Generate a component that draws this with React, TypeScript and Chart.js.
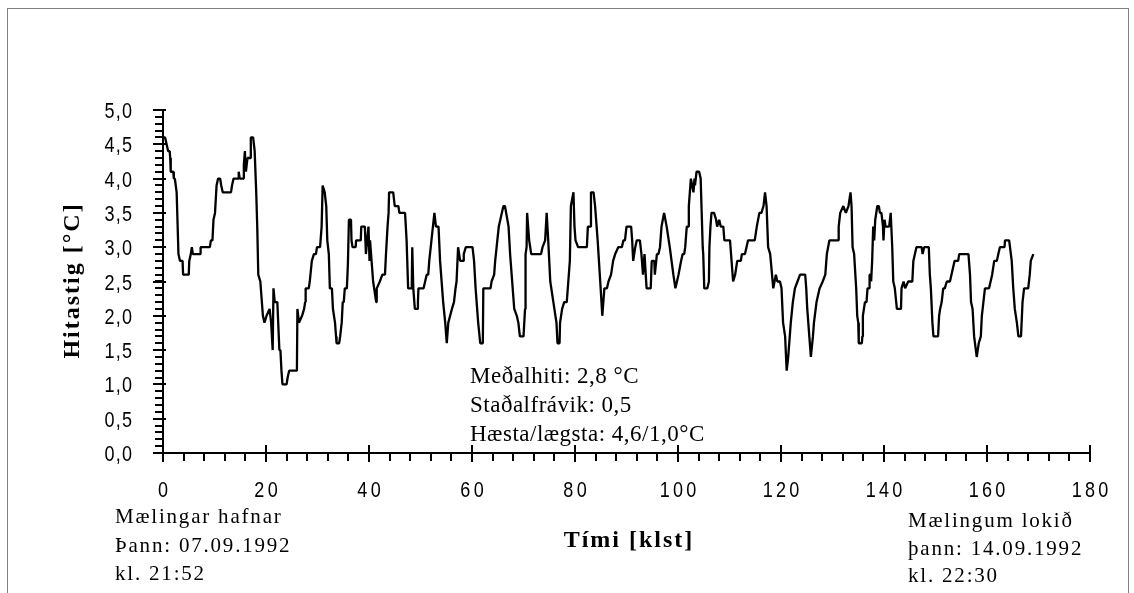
import React, { useEffect, useRef } from 'react';
import { Chart, registerables } from 'chart.js';

Chart.register(...registerables);

// Temperature record: [time in hours, temperature in °C]
const readings: [number, number][] = [
  [0,4.6],[0.4,4.6],[0.7,4.5],[1.0,4.4],[1.3,4.4],[1.4,4.3],[1.5,4.1],[2.0,4.1],[2.1,4.0],[2.3,4.0],
  [2.65,3.8],[3.0,2.9],[3.3,2.8],[3.8,2.8],[3.9,2.6],[5.0,2.6],[5.1,2.8],[5.4,2.9],[5.6,3.0],[5.8,2.9],
  [7.2,2.9],[7.3,3.0],[9.1,3.0],[9.3,3.1],[9.6,3.1],[9.8,3.4],[10.1,3.5],[10.4,3.9],[10.7,4.0],[11.1,4.0],
  [11.3,3.9],[11.6,3.8],[13.2,3.8],[13.4,3.9],[13.7,4.0],[14.6,4.0],[14.7,4.1],[14.9,4.0],[15.6,4.0],[15.7,4.2],
  [15.9,4.4],[16.1,4.1],[16.4,4.3],[16.9,4.3],[17.05,4.6],[17.5,4.6],[17.8,4.4],[18.1,3.8],[18.3,3.3],[18.5,2.6],
  [18.9,2.5],[19.4,2.0],[19.7,1.9],[20.1,2.0],[20.7,2.1],[21.0,1.9],[21.3,1.5],[21.45,2.4],[21.7,2.2],[22.2,2.2],
  [22.6,1.5],[22.8,1.5],[23.0,1.2],[23.2,1.0],[24.0,1.0],[24.2,1.1],[24.5,1.2],[26.0,1.2],[26.1,2.1],[26.4,1.9],
  [27.0,2.0],[27.4,2.1],[27.6,2.2],[27.7,2.4],[28.3,2.4],[28.5,2.5],[28.9,2.8],[29.3,2.9],[29.7,2.9],[29.9,3.0],
  [30.5,3.0],[30.8,3.3],[31.0,3.9],[31.4,3.8],[31.7,3.6],[31.9,3.1],[32.2,2.9],[32.4,2.4],[32.8,2.4],[33.0,2.1],
  [33.4,1.9],[33.6,1.7],[33.7,1.6],[34.2,1.6],[34.4,1.7],[34.7,1.9],[34.9,2.2],[35.1,2.2],[35.3,2.4],[35.7,2.4],
  [35.9,2.75],[36.1,3.4],[36.5,3.4],[36.6,3.1],[36.8,3.0],[37.4,3.0],[37.5,3.1],[38.4,3.1],[38.5,3.3],[39.2,3.3],
  [39.4,2.9],[39.9,3.3],[40.1,2.8],[40.2,3.1],[40.5,2.8],[40.8,2.5],[41.0,2.4],[41.4,2.2],[41.5,2.4],[42.1,2.5],
  [42.6,2.6],[43.1,2.6],[43.3,2.9],[43.6,3.3],[43.8,3.5],[43.9,3.8],[44.7,3.8],[45.0,3.6],[45.7,3.6],[45.9,3.5],
  [47.0,3.5],[47.3,3.1],[47.6,2.4],[48.3,2.4],[48.4,3.0],[48.6,2.4],[48.9,2.1],[49.4,2.1],[49.5,2.2],[49.6,2.4],
  [50.6,2.4],[50.9,2.5],[51.2,2.6],[51.5,2.6],[51.7,2.8],[52.7,3.5],[53.0,3.3],[53.5,3.3],[53.8,2.8],[54.1,2.5],
  [54.4,2.2],[54.8,1.9],[55.1,1.6],[55.4,1.9],[56.1,2.1],[56.5,2.2],[56.8,2.4],[57.0,2.5],[57.3,3.0],[57.7,2.8],
  [58.3,2.8],[58.4,2.9],[58.8,3.0],[60.1,3.0],[60.4,2.8],[60.7,2.4],[61.2,1.9],[61.6,1.6],[62.1,1.6],[62.2,2.4],
  [63.6,2.4],[63.8,2.5],[64.3,2.6],[64.5,2.8],[65.2,3.3],[65.5,3.4],[66.1,3.6],[66.4,3.6],[67.1,3.3],[67.4,2.9],
  [67.8,2.5],[68.2,2.1],[68.7,2.0],[69.0,1.9],[69.3,1.7],[70.0,1.7],[70.3,2.1],[70.4,2.9],[70.6,3.0],[70.7,3.5],
  [71.1,3.1],[71.3,3.0],[71.5,2.9],[73.4,2.9],[73.7,3.0],[74.2,3.1],[74.5,3.5],[74.8,3.1],[75.2,2.5],[75.8,2.2],
  [76.4,1.9],[76.6,1.6],[77.0,1.6],[77.1,1.9],[77.5,2.1],[77.9,2.2],[78.4,2.2],[78.7,2.5],[79.0,2.8],[79.2,3.6],
  [79.7,3.8],[79.9,3.3],[80.1,3.1],[80.6,3.0],[82.3,3.0],[82.5,3.3],[83.0,3.3],[83.1,3.8],[83.6,3.8],[83.9,3.6],
  [84.4,3.1],[84.9,2.5],[85.3,2.0],[85.7,2.4],[86.2,2.4],[86.5,2.5],[87.0,2.6],[87.4,2.8],[87.8,2.9],[88.4,3.0],
  [89.1,3.0],[89.4,3.1],[89.7,3.1],[90.0,3.3],[90.9,3.3],[91.1,3.1],[91.3,2.8],[91.7,3.0],[92.0,3.1],[92.6,3.1],
  [92.9,2.9],[93.2,2.6],[93.5,2.9],[93.9,2.4],[94.7,2.4],[94.9,2.8],[95.4,2.8],[95.5,2.6],[95.9,2.9],[96.2,2.9],
  [96.5,3.0],[96.8,3.3],[97.3,3.5],[97.8,3.3],[98.4,3.0],[99.1,2.6],[99.5,2.4],[100.1,2.6],[100.6,2.8],[100.9,2.9],
  [101.2,2.9],[101.4,3.0],[101.7,3.3],[102.0,3.3],[102.1,3.6],[102.3,3.8],[102.5,4.0],[103.0,3.8],[103.2,4.0],[103.3,3.9],
  [103.6,4.1],[104.1,4.1],[104.4,4.0],[104.6,3.5],[104.8,3.0],[104.9,2.9],[105.1,2.4],[105.7,2.4],[106.0,2.5],[106.1,3.0],
  [106.3,3.3],[106.5,3.5],[107.0,3.5],[107.4,3.4],[107.6,3.3],[108.0,3.4],[108.3,3.3],[108.8,3.3],[109.0,3.1],[110.1,3.1],
  [110.4,2.8],[110.7,2.5],[111.1,2.6],[111.5,2.8],[112.2,2.8],[112.4,2.9],[113.0,2.9],[113.3,3.0],[113.6,3.1],[114.9,3.1],
  [115.3,3.3],[115.8,3.5],[116.2,3.5],[116.6,3.6],[116.9,3.8],[117.2,3.6],[117.5,3.0],[117.9,2.9],[118.5,2.4],[119.0,2.6],
  [119.3,2.5],[119.8,2.5],[120.1,2.4],[120.4,1.9],[120.8,1.7],[121.1,1.2],[121.4,1.4],[121.9,1.9],[122.3,2.2],[122.7,2.4],
  [123.2,2.5],[123.7,2.6],[124.7,2.6],[124.9,2.4],[125.1,2.1],[125.5,1.7],[125.8,1.4],[126.2,1.7],[126.4,1.9],[126.9,2.2],
  [127.5,2.4],[128.1,2.5],[128.6,2.6],[128.9,2.9],[129.4,3.1],[131.1,3.1],[131.2,3.3],[131.5,3.5],[132.1,3.6],[132.6,3.5],
  [133.1,3.6],[133.5,3.8],[133.7,3.6],[133.9,3.0],[134.2,2.9],[134.6,2.4],[134.8,2.0],[135.0,1.9],[135.1,1.6],[135.7,1.6],
  [135.8,1.7],[135.9,2.0],[136.1,2.1],[136.3,2.2],[136.6,2.2],[136.8,2.4],[137.1,2.4],[137.2,2.6],[137.4,2.6],[137.5,2.5],
  [137.7,2.8],[137.9,3.3],[138.1,3.1],[138.3,3.4],[138.5,3.5],[138.7,3.6],[139.0,3.6],[139.2,3.5],[139.5,3.5],[139.8,3.3],
  [139.9,3.1],[140.1,3.4],[140.3,3.3],[141.0,3.3],[141.3,3.5],[141.6,3.0],[141.8,2.5],[142.1,2.4],[142.5,2.1],[143.3,2.1],
  [143.4,2.4],[143.8,2.5],[144.1,2.4],[144.7,2.5],[145.5,2.5],[145.7,2.8],[146.0,2.9],[146.3,3.0],[147.3,3.0],[147.5,2.9],
  [147.8,3.0],[148.7,3.0],[148.9,2.6],[149.1,2.4],[149.4,1.9],[149.6,1.7],[150.5,1.7],[150.7,2.0],[150.9,2.1],[151.2,2.2],
  [151.5,2.4],[151.8,2.4],[152.2,2.5],[152.8,2.5],[153.1,2.6],[153.7,2.8],[154.4,2.8],[154.6,2.9],[156.4,2.9],[156.7,2.6],
  [156.9,2.2],[157.2,2.1],[157.5,1.7],[158.0,1.4],[158.4,1.6],[158.8,1.7],[159.0,2.0],[159.3,2.2],[159.6,2.4],[160.4,2.4],
  [160.7,2.5],[161.0,2.6],[161.4,2.8],[161.9,2.8],[162.2,2.9],[162.5,3.0],[163.4,3.0],[163.5,3.1],[164.3,3.1],[164.8,2.8],
  [165.1,2.4],[165.4,2.1],[165.8,1.9],[166.1,1.7],[166.6,1.7],[166.9,2.2],[167.2,2.4],[168.0,2.4],[168.3,2.6],[168.5,2.8],
  [169.0,2.9],
];

const hours = readings.map((r) => r[0]);
const temps = readings.map((r) => r[1]);

const xMajorTicks = [0, 20, 40, 60, 80, 100, 120, 140, 160, 180];
const xTickLabels = ['0', '20', '40', '60', '80', '100', '120', '140', '160', '180'];
const xMinorStep = 4;
const yMajorTicks = [0, 0.5, 1, 1.5, 2, 2.5, 3, 3.5, 4, 4.5, 5];
const yTickLabels = ['0,0', '0,5', '1,0', '1,5', '2,0', '2,5', '3,0', '3,5', '4,0', '4,5', '5,0'];
const yMinorStep = 0.1;

const xTitle = 'Tími [klst]';
const yTitle = 'Hitastig [°C]';
const statLines = ['Meðalhiti: 2,8 °C', 'Staðalfrávik: 0,5', 'Hæsta/lægsta: 4,6/1,0°C'];
const startLines = ['Mælingar hafnar', 'Þann: 07.09.1992', 'kl. 21:52'];
const endLines = ['Mælingum lokið', 'þann: 14.09.1992', 'kl. 22:30'];

const SERIF = '"Liberation Serif", "Times New Roman", serif';
const SANS = '"Liberation Sans", Arial, sans-serif';

function drawText(
  ctx: CanvasRenderingContext2D,
  s: string,
  x: number,
  y: number,
  align: 'left' | 'center' | 'right',
  font: string,
  spacing: number,
  sx = 1
) {
  ctx.save();
  ctx.translate(x, y);
  ctx.scale(sx, 1);
  ctx.font = font;
  (ctx as any).letterSpacing = spacing + 'px';
  ctx.textAlign = 'left';
  ctx.textBaseline = 'alphabetic';
  const w = ctx.measureText(s).width - spacing;
  const x0 = align === 'center' ? -w / 2 : align === 'right' ? -w : 0;
  ctx.fillStyle = '#000';
  ctx.fillText(s, x0, 0);
  ctx.restore();
}

const decorPlugin = {
  id: 'decor',
  afterDraw(chart: any) {
    const ctx: CanvasRenderingContext2D = chart.ctx;
    const xs = chart.scales.x;
    const ys = chart.scales.y;
    const L = Math.round(xs.getPixelForValue(xMajorTicks[0]));
    const R = Math.round(xs.getPixelForValue(xMajorTicks[xMajorTicks.length - 1]));
    const B = Math.round(ys.getPixelForValue(yMajorTicks[0]));
    const T = Math.round(ys.getPixelForValue(yMajorTicks[yMajorTicks.length - 1]));

    ctx.save();
    ctx.strokeStyle = '#000';
    ctx.lineWidth = 2;
    ctx.lineCap = 'butt';
    ctx.beginPath();
    ctx.moveTo(L, T);
    ctx.lineTo(L, B + 1);
    ctx.moveTo(L - 1, B);
    ctx.lineTo(R + 1, B);
    const yMax = yMajorTicks[yMajorTicks.length - 1];
    for (let v = 0; v <= yMax + 1e-6; v += yMinorStep) {
      const y = Math.round(ys.getPixelForValue(v));
      ctx.moveTo(L - 8, y);
      ctx.lineTo(L, y);
    }
    yMajorTicks.forEach((v) => {
      const y = Math.round(ys.getPixelForValue(v));
      ctx.moveTo(L - 10, y);
      ctx.lineTo(L + 3, y);
    });
    const xMax = xMajorTicks[xMajorTicks.length - 1];
    for (let v = 0; v <= xMax + 1e-6; v += xMinorStep) {
      const x = Math.round(xs.getPixelForValue(v));
      ctx.moveTo(x, B);
      ctx.lineTo(x, B + 8);
    }
    xMajorTicks.forEach((v) => {
      const x = Math.round(xs.getPixelForValue(v));
      ctx.moveTo(x, B - 8);
      ctx.lineTo(x, B + 9);
    });
    ctx.stroke();
    ctx.restore();

    yMajorTicks.forEach((v, i) => {
      const y = ys.getPixelForValue(v);
      drawText(ctx, yTickLabels[i], L - 31, y + 8, 'right', '22px ' + SANS, 1.5, 0.82);
    });
    xMajorTicks.forEach((v, i) => {
      const x = xs.getPixelForValue(v);
      drawText(ctx, xTickLabels[i], x, B + 44, 'center', '22px ' + SANS, 4, 0.82);
    });

    drawText(ctx, xTitle, L + 465, B + 94, 'center', 'bold 24px ' + SERIF, 2);
    ctx.save();
    ctx.translate(L - 84, (T + B) / 2);
    ctx.rotate(-Math.PI / 2);
    drawText(ctx, yTitle, 0, 0, 'center', 'bold 24px ' + SERIF, 2);
    ctx.restore();

    statLines.forEach((s, i) => {
      drawText(ctx, s, L + 307, B - 70 + i * 29, 'left', '23px ' + SERIF, 0.5);
    });
    startLines.forEach((s, i) => {
      drawText(ctx, s, L - 48, B + 70 + i * 28.5, 'left', '21px ' + SERIF, 1.8);
    });
    endLines.forEach((s, i) => {
      drawText(ctx, s, L + 745, B + 74 + i * 27.5, 'left', '21px ' + SERIF, 1.8);
    });
  },
};

export default function App() {
  const canvasRef = useRef<HTMLCanvasElement | null>(null);

  useEffect(() => {
    const canvas = canvasRef.current;
    if (!canvas) return;
    const chart = new Chart(canvas, {
      type: 'line',
      data: {
        datasets: [
          {
            data: hours.map((h, i) => ({ x: h, y: temps[i] })),
            borderColor: '#000',
            borderWidth: 2.3,
            pointRadius: 0,
            tension: 0,
            fill: false,
            borderJoinStyle: 'bevel',
          },
        ],
      },
      options: {
        responsive: false,
        animation: false,
        devicePixelRatio: 1,
        layout: { padding: { left: 155, right: 38, top: 101, bottom: 140 } },
        scales: {
          x: { type: 'linear', min: 0, max: 180, display: false },
          y: { type: 'linear', min: 0, max: 5, display: false },
        },
        plugins: {
          legend: { display: false },
          tooltip: { enabled: false },
        },
      },
      plugins: [decorPlugin],
    } as any);
    return () => chart.destroy();
  }, []);

  return (
    <div
      style={{
        position: 'fixed',
        left: 7,
        top: 8,
        width: 1120,
        height: 600,
        border: '1px solid #808080',
        borderBottom: 'none',
        background: '#fff',
      }}
    >
      <canvas ref={canvasRef} width={1120} height={584} style={{ display: 'block', width: 1120, height: 584 }} />
    </div>
  );
}
